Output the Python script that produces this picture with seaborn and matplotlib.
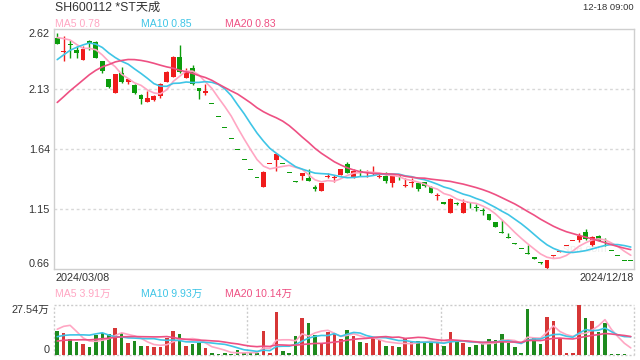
import numpy as np
import pandas as pd
import seaborn as sns
import matplotlib.pyplot as plt

# daily candles 2024/03/08 .. 2024/12/18 (price in CNY, volume in 万)
opens = [2.55, 2.43, 2.50, 2.45, 2.37, 2.52, 2.51, 2.36, 2.21, 2.10,
         2.26, 2.19, 2.16, 2.08, 2.02, 2.04, 2.07, 2.19, 2.23, 2.39,
         2.22, 2.30, 2.14, 2.10, 2.005, 1.90, 1.81, 1.72, 1.63, 1.55,
         1.47, 1.40, 1.33, 1.52, 1.55, 1.52, 1.44, 1.37, 1.42, 1.40,
         1.33, 1.30, 1.41, 1.405, 1.43, 1.52, 1.415, 1.46, 1.44, 1.445,
         1.41, 1.42, 1.36, 1.42, 1.335, 1.36, 1.36, 1.37, 1.33, 1.255,
         1.205, 1.12, 1.20, 1.12, 1.205, 1.16, 1.14, 1.11, 1.04, 0.965,
         0.915, 0.865, 0.82, 0.78, 0.75, 0.72, 0.665, 0.765, 0.80, 0.845,
         0.887, 0.90, 0.96, 0.86, 0.93, 0.85, 0.803, 0.763, 0.725, 0.725]
highs = [2.585, 2.56, 2.53, 2.48, 2.48, 2.53, 2.52, 2.36, 2.21, 2.25,
         2.31, 2.22, 2.17, 2.09, 2.11, 2.08, 2.18, 2.28, 2.40, 2.49,
         2.30, 2.33, 2.14, 2.17, 2.005, 1.90, 1.81, 1.72, 1.63, 1.55,
         1.47, 1.40, 1.46, 1.52, 1.61, 1.52, 1.44, 1.38, 1.44, 1.48,
         1.35, 1.36, 1.44, 1.43, 1.48, 1.53, 1.48, 1.48, 1.47, 1.50,
         1.44, 1.45, 1.42, 1.43, 1.40, 1.40, 1.36, 1.37, 1.335, 1.28,
         1.21, 1.24, 1.21, 1.23, 1.21, 1.19, 1.16, 1.11, 1.04, 1.06,
         0.95, 0.875, 0.82, 0.86, 0.755, 0.72, 0.73, 0.77, 0.805, 0.845,
         0.887, 0.95, 0.985, 0.93, 0.94, 0.91, 0.803, 0.763, 0.725, 0.725]
lows = [2.50, 2.36, 2.38, 2.38, 2.37, 2.45, 2.38, 2.26, 2.14, 2.10,
        2.18, 2.17, 2.09, 2.01, 2.02, 2.03, 2.06, 2.19, 2.23, 2.26,
        2.22, 2.16, 2.05, 2.08, 2.005, 1.90, 1.81, 1.72, 1.63, 1.55,
        1.47, 1.40, 1.33, 1.52, 1.46, 1.52, 1.44, 1.37, 1.39, 1.38,
        1.30, 1.30, 1.40, 1.37, 1.43, 1.44, 1.40, 1.42, 1.41, 1.43,
        1.40, 1.36, 1.33, 1.39, 1.33, 1.33, 1.30, 1.33, 1.28, 1.22,
        1.19, 1.12, 1.18, 1.12, 1.16, 1.13, 1.10, 1.06, 1.005, 0.955,
        0.91, 0.865, 0.82, 0.78, 0.74, 0.70, 0.66, 0.755, 0.795, 0.845,
        0.887, 0.88, 0.90, 0.85, 0.885, 0.845, 0.803, 0.763, 0.725, 0.725]
closes = [2.50, 2.44, 2.49, 2.42, 2.46, 2.50, 2.38, 2.28, 2.15, 2.25,
          2.19, 2.21, 2.10, 2.05, 2.06, 2.07, 2.17, 2.27, 2.39, 2.27,
          2.28, 2.17, 2.11, 2.11, 2.005, 1.90, 1.81, 1.72, 1.63, 1.55,
          1.47, 1.40, 1.45, 1.52, 1.60, 1.52, 1.44, 1.37, 1.44, 1.38,
          1.31, 1.36, 1.42, 1.415, 1.48, 1.44, 1.46, 1.44, 1.45, 1.455,
          1.42, 1.375, 1.42, 1.41, 1.34, 1.37, 1.31, 1.34, 1.28, 1.26,
          1.19, 1.235, 1.19, 1.20, 1.20, 1.155, 1.13, 1.06, 1.005, 0.955,
          0.91, 0.865, 0.82, 0.78, 0.745, 0.705, 0.73, 0.767, 0.805, 0.845,
          0.887, 0.93, 0.905, 0.92, 0.89, 0.845, 0.803, 0.763, 0.725, 0.725]
volumes = [13.2, 11.9, 8.8, 7.2, 6.1, 4.4, 11.0, 11.9, 11.4, 14.9,
           11.9, 6.6, 7.7, 5.0, 5.0, 4.6, 4.4, 9.4, 13.2, 11.6,
           5.0, 6.1, 6.6, 4.0, 1.1, 0.55, 1.1, 0.4, 2.8, 1.1,
           1.1, 1.1, 13.4, 1.3, 23.9, 2.2, 1.1, 10.5, 20.6, 17.6,
           11.0, 6.2, 12.7, 12.3, 9.0, 13.8, 10.6, 7.2, 6.6, 9.5,
           8.3, 5.0, 5.0, 4.4, 9.2, 7.5, 7.7, 7.0, 7.0, 7.0,
           5.0, 12.7, 7.7, 6.6, 4.4, 5.5, 6.2, 8.8, 8.3, 11.6,
           6.8, 4.4, 1.1, 25.3, 9.5, 6.1, 20.9, 18.7, 9.5, 1.1,
           1.1, 27.54, 20.4, 18.7, 12.9, 17.9, 0.55, 0.55, 0.55, 0.0]

# sessions before 03/08, inferred from where the MA lines start
prior_closes = [1.50, 1.52, 1.55, 1.58, 1.62, 1.66, 1.72, 1.78, 1.82, 1.95,
                2.05, 2.12, 2.18, 2.26, 2.34, 2.48, 2.55, 2.60, 2.62]
prior_volumes = [4, 5, 6, 5, 6, 5, 5, 6, 5, 6, 5, 6, 7, 6, 6, 4, 6, 24, 23.8]

price_ticks = [0.66, 1.15, 1.64, 2.13, 2.62]
vol_max = 27.54
first_date, last_date = "2024/03/08", "2024/12/18"
title = "SH600112 *ST天成"
stamp = "12-18 09:00"
price_ma_labels = ["MA5 0.78", "MA10 0.85", "MA20 0.83"]
vol_ma_labels = ["MA5 3.91万", "MA10 9.93万", "MA20 10.14万"]

RED, GREEN = "#f01c1c", "#0c9c0c"
MA_COLORS = ["#ffa6c3", "#3fc5e6", "#ee5083"]

sns.set_theme(style="white")
plt.rcParams['font.family'] = ['Liberation Sans', 'Noto Sans CJK SC']

df = pd.DataFrame({"open": opens, "high": highs, "low": lows,
                   "close": closes, "volume": volumes})
df["i"] = np.arange(len(df))
prev = df["close"].shift(1).fillna(prior_closes[-1])
df["up"] = (df["close"] > df["open"]) | ((df["close"] == df["open"]) & (df["close"] > prev))
df["color"] = np.where(df["up"], RED, GREEN)

all_close = pd.Series(prior_closes + closes)
all_vol = pd.Series(prior_volumes + volumes)
n0 = len(prior_closes)
for w in (5, 10, 20):
    df[f"ma{w}"] = all_close.rolling(w).mean().iloc[n0:].values
    df[f"vma{w}"] = all_vol.rolling(w).mean().iloc[n0:].values

W, H = 640, 360
fig = plt.figure(figsize=(6.4, 3.6), dpi=100)
ax = fig.add_axes([54 / W, 1 - 269 / H, 580 / W, 240 / H])
axv = fig.add_axes([54 / W, 1 - 355 / H, 580 / W, 50 / H])

# price panel
body_lo = df[["open", "close"]].min(axis=1)
body_h = (df["open"] - df["close"]).abs().clip(lower=0.009)
ax.vlines(df["i"], df["low"], df["high"], colors=df["color"], lw=1, zorder=2)
ax.bar(df["i"], body_h, bottom=body_lo, width=0.76, color=df["color"],
       linewidth=0, zorder=3)
for w, c in zip((5, 10, 20), MA_COLORS):
    sns.lineplot(data=df, x="i", y=f"ma{w}", ax=ax, color=c, lw=1.2, zorder=4)

ax.set_xlim(-0.5, len(df) - 0.5)
ax.set_ylim(price_ticks[0], price_ticks[-1])
ax.set_xticks([])
ax.set_xlabel("")
ax.set_ylabel("")
ax.set_yticks(price_ticks)
ax.set_yticklabels([f"{t:.2f}" for t in price_ticks])
ax.tick_params(axis="y", length=0, pad=3, labelsize=7.8, labelcolor="#333333")
labels = ax.get_yticklabels()
labels[0].set_va("bottom")
labels[-1].set_va("top")
for t in price_ticks[1:-1]:
    ax.axhline(t, color="#d8d8d8", lw=1, ls=(0, (2, 2)), zorder=1)
for s in ax.spines.values():
    s.set_color("#cfcfcf")
    s.set_linewidth(1)
ax.text(0.915, 0.085, "sina.com", transform=ax.transAxes, fontsize=8,
        color="#eeeeee", ha="center", va="center", zorder=1)

# volume panel
sns.barplot(data=df, x="i", y="volume", hue="color", palette={RED: RED, GREEN: GREEN},
            dodge=False, width=0.55, legend=False, ax=axv, linewidth=0, zorder=3)
for w, c in zip((5, 10, 20), MA_COLORS):
    axv.plot(df["i"], df[f"vma{w}"], color=c, lw=1.2, zorder=4)
axv.set_xlim(-0.5, len(df) - 0.5)
axv.set_ylim(0, vol_max)
axv.set_xticks([])
axv.set_xlabel("")
axv.set_ylabel("")
axv.set_yticks([0, vol_max])
axv.set_yticklabels(["0", f"{vol_max:.2f}万"])
axv.tick_params(axis="y", length=0, pad=3, labelsize=7.8, labelcolor="#333333")
vl = axv.get_yticklabels()
vl[0].set_va("bottom")
vl[-1].set_va("top")
for s in axv.spines.values():
    s.set_visible(False)
dot = dict(color="#cccccc", lw=1, ls=(0, (1.5, 1.5)), zorder=1, clip_on=False)
axv.axhline(0, **dot)
axv.axhline(vol_max, **dot)
for xv in (-0.5, 29.5, 59.5, len(df) - 0.5):
    axv.axvline(xv, **dot)

# header and labels
fig.text(55 / W, 1 - 7.5 / H, title, fontsize=8.8, color="#333333", va="center")
fig.text(634 / W, 1 - 7.5 / H, stamp, fontsize=6.8, color="#333333", va="center", ha="right")
for xpx, txt, c in zip((55, 141, 225), price_ma_labels, MA_COLORS):
    fig.text(xpx / W, 1 - 24 / H, txt, fontsize=7.6, color=c, va="center")
for xpx, txt, c in zip((55, 141, 225), vol_ma_labels, MA_COLORS):
    fig.text(xpx / W, 1 - 294 / H, txt, fontsize=7.6, color=c, va="center")
fig.text(55 / W, 1 - 278 / H, first_date, fontsize=7.8, color="#333333", va="center")
fig.text(634 / W, 1 - 278 / H, last_date, fontsize=7.8, color="#333333", va="center", ha="right")

fig.savefig("out.png", dpi=100, facecolor="white")
